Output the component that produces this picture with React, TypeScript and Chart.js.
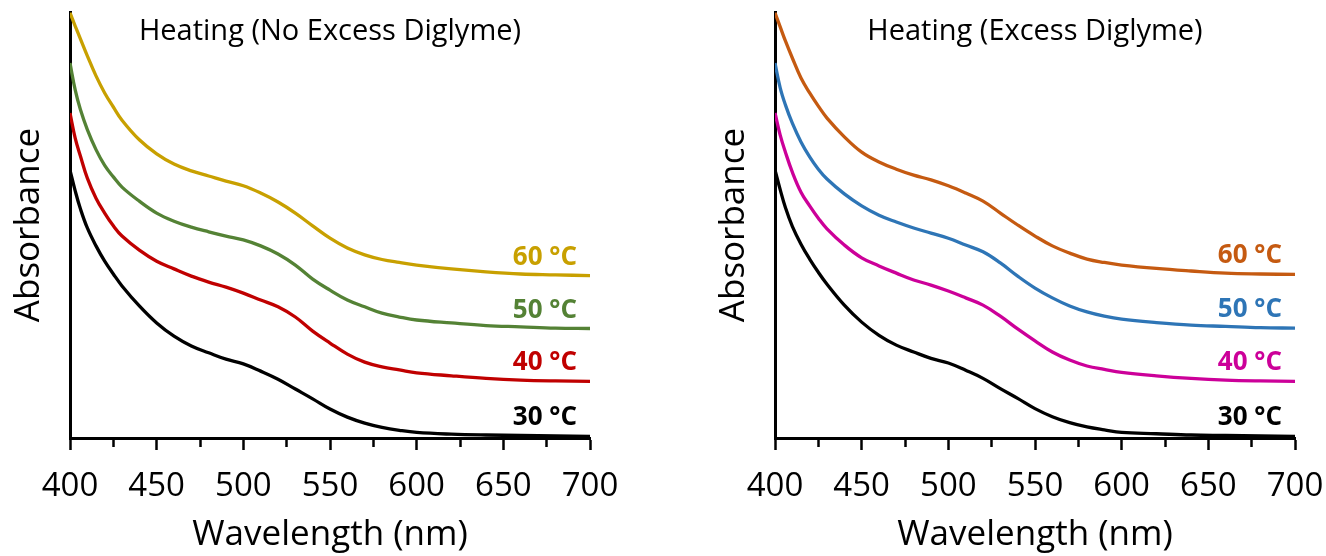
import React, { useEffect, useRef } from 'react';
import { Chart, registerables } from 'chart.js';

Chart.register(...registerables);

// ---------- data ----------
const wavelengths = [400, 403, 406, 410, 415, 420, 425, 430, 440, 450, 460, 470, 480, 490, 500, 510, 520, 530, 540, 550, 560, 570, 580, 590, 600, 620, 640, 660, 680, 700];

// Left panel: Heating (No Excess Diglyme)
const noExcess30 = [0.629, 0.580, 0.538, 0.493, 0.451, 0.415, 0.385, 0.357, 0.310, 0.270, 0.239, 0.216, 0.200, 0.185, 0.174, 0.157, 0.138, 0.115, 0.092, 0.068, 0.049, 0.035, 0.025, 0.018, 0.013, 0.009, 0.007, 0.006, 0.005, 0.004];
const noExcess40 = [0.763, 0.704, 0.662, 0.610, 0.563, 0.528, 0.498, 0.474, 0.441, 0.415, 0.397, 0.380, 0.366, 0.354, 0.340, 0.324, 0.308, 0.284, 0.251, 0.223, 0.197, 0.178, 0.167, 0.160, 0.153, 0.146, 0.140, 0.136, 0.134, 0.133];
const noExcess50 = [0.880, 0.817, 0.771, 0.724, 0.677, 0.640, 0.613, 0.589, 0.556, 0.528, 0.509, 0.495, 0.484, 0.474, 0.465, 0.451, 0.432, 0.406, 0.373, 0.347, 0.324, 0.308, 0.293, 0.284, 0.277, 0.270, 0.264, 0.261, 0.258, 0.257];
const noExcess60 = [0.998, 0.967, 0.937, 0.897, 0.850, 0.810, 0.777, 0.746, 0.700, 0.667, 0.643, 0.627, 0.615, 0.603, 0.592, 0.575, 0.554, 0.528, 0.498, 0.469, 0.446, 0.430, 0.419, 0.412, 0.406, 0.397, 0.390, 0.385, 0.383, 0.381];

// Right panel: Heating (Excess Diglyme)
const excess30 = [0.629, 0.583, 0.541, 0.497, 0.455, 0.420, 0.389, 0.361, 0.312, 0.272, 0.241, 0.218, 0.202, 0.187, 0.176, 0.159, 0.140, 0.116, 0.093, 0.069, 0.050, 0.036, 0.026, 0.019, 0.013, 0.010, 0.007, 0.006, 0.005, 0.004];
const excess40 = [0.763, 0.711, 0.671, 0.624, 0.577, 0.545, 0.516, 0.491, 0.453, 0.423, 0.404, 0.387, 0.371, 0.359, 0.345, 0.329, 0.312, 0.286, 0.256, 0.228, 0.202, 0.183, 0.169, 0.161, 0.154, 0.146, 0.140, 0.136, 0.134, 0.133];
const excess50 = [0.880, 0.822, 0.782, 0.739, 0.695, 0.660, 0.631, 0.608, 0.573, 0.545, 0.523, 0.507, 0.493, 0.481, 0.469, 0.453, 0.437, 0.411, 0.380, 0.352, 0.329, 0.310, 0.296, 0.286, 0.279, 0.271, 0.265, 0.262, 0.259, 0.258];
const excess60 = [0.998, 0.965, 0.932, 0.892, 0.845, 0.810, 0.779, 0.751, 0.707, 0.671, 0.648, 0.631, 0.617, 0.606, 0.592, 0.575, 0.556, 0.528, 0.500, 0.474, 0.451, 0.434, 0.420, 0.412, 0.406, 0.398, 0.392, 0.387, 0.385, 0.384];

const seriesLabels = ['30 °C', '40 °C', '50 °C', '60 °C'];
const leftColors = ['#000000', '#C00000', '#548235', '#C8A000'];
const rightColors = ['#000000', '#CC0099', '#2E75B6', '#C55A11'];
const majorTickLabels = [400, 450, 500, 550, 600, 650, 700];
const panelTitles = ['Heating (No Excess Diglyme)', 'Heating (Excess Diglyme)'];
const xAxisTitle = 'Wavelength (nm)';
const yAxisTitle = 'Absorbance';

const FONT = '"Open Sans", "DejaVu Sans", sans-serif';

const panelTextPlugin = {
  id: 'panelText',
  afterDatasetsDraw(chart: any, _args: any, opts: any) {
    const { ctx, chartArea, scales } = chart;
    ctx.save();
    ctx.fillStyle = '#000';
    ctx.font = `29px ${FONT}`;
    ctx.textAlign = 'center';
    ctx.textBaseline = 'alphabetic';
    ctx.fillText(opts.title, (chartArea.left + chartArea.right) / 2, chartArea.top + 27.5);
    ctx.font = `bold 26px ${FONT}`;
    ctx.textAlign = 'right';
    chart.data.datasets.forEach((ds: any) => {
      const last = ds.data[ds.data.length - 1];
      const y = scales.y.getPixelForValue(last.y) - 11;
      ctx.fillStyle = ds.borderColor;
      ctx.fillText(ds.label, chartArea.right - 13, y);
    });
    ctx.restore();
  },
};

function Panel({ title, series, colors, left }: { title: string; series: number[][]; colors: string[]; left: number }) {
  const ref = useRef<HTMLCanvasElement>(null);
  useEffect(() => {
    if (!ref.current) return;
    const datasets = series.map((vals, i) => ({
      label: seriesLabels[i],
      data: wavelengths.map((w, j) => ({ x: w, y: vals[j] })),
      borderColor: colors[i],
      backgroundColor: colors[i],
      borderWidth: 3.3,
      pointRadius: 0,
      tension: 0.4,
      fill: false,
    }));
    const chart = new Chart(ref.current, {
      type: 'line',
      data: { datasets },
      plugins: [panelTextPlugin],
      options: {
        animation: false,
        responsive: false,
        devicePixelRatio: 1,
        events: [],
        layout: { padding: { left: 0, right: 31, top: 12, bottom: 0 } },
        plugins: {
          legend: { display: false },
          tooltip: { enabled: false },
          panelText: { title },
        } as any,
        scales: {
          x: {
            type: 'linear',
            min: 400,
            max: 700,
            border: { display: true, color: '#000', width: 3 },
            grid: {
              display: true,
              drawOnChartArea: false,
              drawTicks: true,
              tickLength: 12,
              tickWidth: 2.5,
              tickColor: '#000',
              tickBorderDash: (ctx: any) => (ctx.tick && majorTickLabels.indexOf(ctx.tick.value) < 0 ? [7, 100] : []),
            } as any,
            ticks: {
              stepSize: 25,
              autoSkip: false,
              maxRotation: 0,
              padding: 17,
              color: '#000',
              font: { family: FONT, size: 33 },
              callback: (v: any) => (majorTickLabels.indexOf(Number(v)) >= 0 ? String(v) : ''),
            },
            title: {
              display: true,
              text: xAxisTitle,
              color: '#000',
              font: { family: FONT, size: 35 },
              padding: { top: 0, bottom: 0 },
            },
            afterFit: (s: any) => {
              s.height = 118;
              s.paddingLeft = 0;
              s.paddingRight = 0;
            },
          },
          y: {
            type: 'linear',
            min: 0,
            max: 1,
            border: { display: true, color: '#000', width: 3 },
            grid: { display: true, drawOnChartArea: false, drawTicks: false },
            ticks: { display: false },
            title: {
              display: true,
              text: yAxisTitle,
              color: '#000',
              font: { family: FONT, size: 35 },
              padding: { top: 8, bottom: 0 },
            },
            afterFit: (s: any) => {
              s.width = 70;
              s.paddingTop = 0;
              s.paddingBottom = 0;
            },
          },
        },
      },
    });
    return () => chart.destroy();
  }, [title, series, colors]);
  return (
    <canvas
      ref={ref}
      width={621}
      height={556}
      style={{ position: 'absolute', left, top: 0, width: 621, height: 556, display: 'block' }}
    />
  );
}

const leftSeries = [noExcess30, noExcess40, noExcess50, noExcess60];
const rightSeries = [excess30, excess40, excess50, excess60];

export default function App() {
  return (
    <div style={{ position: 'fixed', left: 0, top: 0, width: 1326, height: 556, background: '#fff', overflow: 'hidden' }}>
      <Panel title={panelTitles[0]} series={leftSeries} colors={leftColors} left={0} />
      <Panel title={panelTitles[1]} series={rightSeries} colors={rightColors} left={705} />
    </div>
  );
}
